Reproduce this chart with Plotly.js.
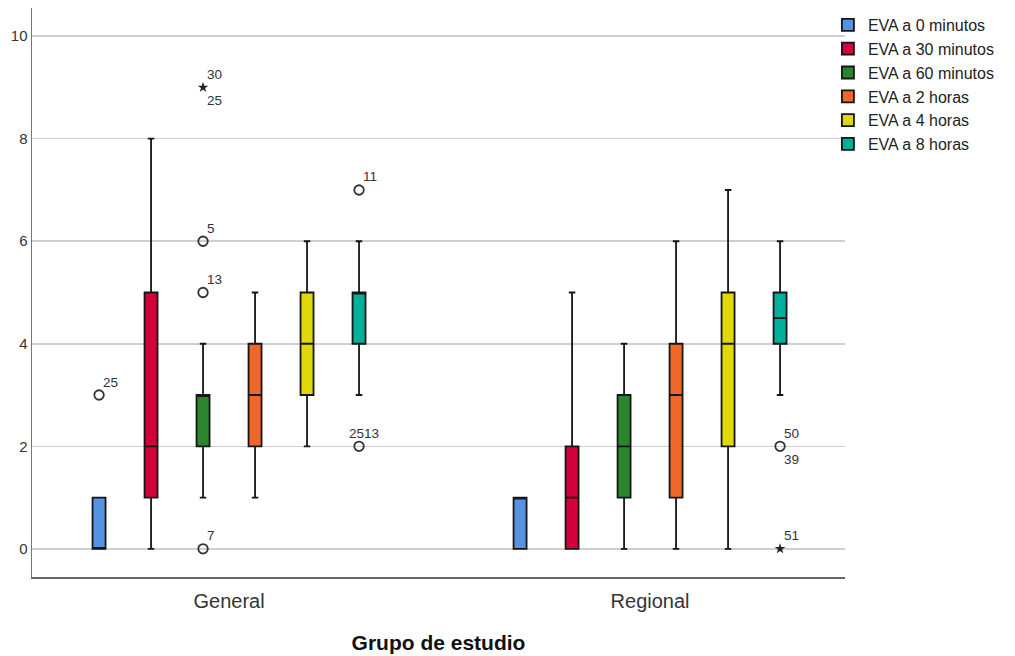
<!DOCTYPE html>
<html><head><meta charset="utf-8">
<script src="https://cdn.plot.ly/plotly-3.0.1.min.js"></script>
<style>html,body{margin:0;padding:0;background:#fff}</style>
</head><body><div id="chart" style="width:1015px;height:656px"></div>
<script>
// Categories (x groups) and series
const groups = ['General', 'Regional'];
const seriesNames = ['EVA a 0 minutos', 'EVA a 30 minutos', 'EVA a 60 minutos', 'EVA a 2 horas', 'EVA a 4 horas', 'EVA a 8 horas'];
const seriesColors = ['#5593e0', '#d6003a', '#2a862a', '#f1672a', '#e1d80c', '#00b09b'];

// Box statistics per series: [General, Regional]
const lowerWhisker = [[0, 0], [0, 0], [1, 0], [1, 0], [2, 0], [3, 3]];
const q1Values     = [[0, 0], [1, 0], [2, 1], [2, 1], [3, 2], [4, 4]];
const medianValues = [[0, 1], [2, 1], [3, 2], [3, 3], [4, 4], [5, 4.5]];
const q3Values     = [[1, 1], [5, 2], [3, 3], [4, 4], [5, 5], [5, 5]];
const upperWhisker = [[1, 1], [8, 5], [4, 4], [5, 6], [6, 7], [6, 6]];

// Outliers
const outlierGroup  = [0, 0, 0, 0, 0, 0, 0, 1, 1];
const outlierSeries = [0, 2, 2, 2, 2, 5, 5, 5, 5];
const outlierValue  = [3, 9, 6, 5, 0, 7, 2, 2, 0];
const outlierKind   = ['circle', 'star', 'circle', 'circle', 'circle', 'circle', 'circle', 'circle', 'star'];
const labelAbove    = ['25', '30', '5', '13', '7', '11', '2513', '50', '51'];
const labelBelow    = ['', '25', '', '', '', '', '', '39', ''];

const boxgap = 0.259, boxgroupgap = 0.75;
const nSeries = seriesNames.length;
const offsetOf = s => (1 - boxgap) * ((s + 0.5) / nSeries - 0.5);

const traces = seriesNames.map((name, s) => ({
  type: 'box',
  name: name,
  x: [0, 1],
  q1: q1Values[s],
  median: medianValues[s],
  q3: q3Values[s],
  lowerfence: lowerWhisker[s],
  upperfence: upperWhisker[s],
  fillcolor: seriesColors[s],
  line: {color: '#161616', width: 1.8},
  whiskerwidth: 0.5,
  boxpoints: false,
  hoverinfo: 'skip'
}));

const xs = outlierValue.map((v, i) => outlierGroup[i] + offsetOf(outlierSeries[i]));
const circIdx = outlierKind.map((k, i) => k === 'circle' ? i : -1).filter(i => i >= 0);
const starIdx = outlierKind.map((k, i) => k === 'star' ? i : -1).filter(i => i >= 0);
traces.push({
  type: 'scatter', mode: 'markers', showlegend: false, hoverinfo: 'skip',
  x: circIdx.map(i => xs[i]), y: circIdx.map(i => outlierValue[i]),
  marker: {symbol: 'circle-open', size: 9.5, color: '#333', line: {width: 1.8, color: '#333'}}
});
traces.push({
  type: 'scatter', mode: 'markers', showlegend: false, hoverinfo: 'skip',
  x: starIdx.map(i => xs[i]), y: starIdx.map(i => outlierValue[i]),
  marker: {symbol: 'star', size: 8, color: '#222', line: {width: 0}}
});

const annFont = {family: 'Liberation Sans, Arial, sans-serif', size: 13.5, color: '#333'};
const annotations = [];
outlierValue.forEach((v, i) => {
  if (labelAbove[i]) annotations.push({x: xs[i], y: v, xref: 'x', yref: 'y', text: labelAbove[i], showarrow: false,
    xanchor: 'left', yanchor: 'middle', xshift: labelAbove[i].length > 2 ? -12 : 2, yshift: 13, font: annFont});
  if (labelBelow[i]) annotations.push({x: xs[i], y: v, xref: 'x', yref: 'y', text: labelBelow[i], showarrow: false,
    xanchor: 'left', yanchor: 'middle', xshift: 2, yshift: -13, font: annFont});
});

const layout = {
  width: 1015, height: 656,
  margin: {l: 32, r: 170, t: 8, b: 79},
  paper_bgcolor: '#fff', plot_bgcolor: '#fff',
  font: {family: 'Liberation Sans, Arial, sans-serif', color: '#333'},
  boxmode: 'group', boxgap: boxgap, boxgroupgap: boxgroupgap,
  showlegend: true,
  legend: {x: 0.979, y: 1.0, xanchor: 'left', yanchor: 'top', font: {size: 16, color: '#222'},
           bgcolor: 'rgba(0,0,0,0)', tracegroupgap: 0, itemclick: false},
  xaxis: {
    range: [-0.468, 1.463], tickvals: [0, 1], ticktext: groups,
    showgrid: false, zeroline: false, showline: true, linecolor: '#666', linewidth: 1.5,
    ticks: '', tickfont: {size: 20, color: '#333'}, ticklabelstandoff: 5,
    title: {text: '<b>Grupo de estudio</b>', font: {size: 21, color: '#111'}, standoff: 25}
  },
  yaxis: {
    range: [-0.55, 10.55], tickvals: [0, 2, 4, 6, 8, 10],
    showgrid: true, gridcolor: '#cfcfcf', gridwidth: 1.5, zeroline: false,
    showline: true, linecolor: '#777', linewidth: 1.5, ticks: '',
    tickfont: {size: 15, color: '#333'}
  },
  annotations: annotations
};

Plotly.newPlot('chart', traces, layout, {displayModeBar: false, staticPlot: true});
</script></body></html>
